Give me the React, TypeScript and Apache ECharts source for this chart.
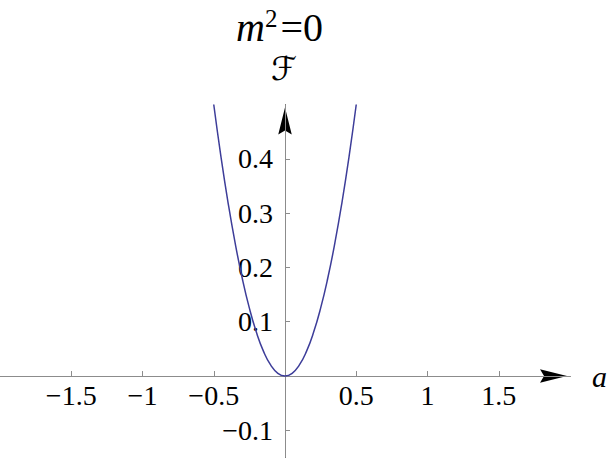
import React, { useEffect, useRef } from "react";
import * as echarts from "echarts";

// Curve points: a -> F
const aValues = [-0.5, -0.45, -0.4, -0.35, -0.3, -0.25, -0.2, -0.15, -0.1, -0.05, 0, 0.05, 0.1, 0.15, 0.2, 0.25, 0.3, 0.35, 0.4, 0.45, 0.5];
const fValues = [0.5, 0.405, 0.32, 0.245, 0.18, 0.125, 0.08, 0.045, 0.02, 0.005, 0, 0.005, 0.02, 0.045, 0.08, 0.125, 0.18, 0.245, 0.32, 0.405, 0.5];

const xTicks = [-1.5, -1, -0.5, 0.5, 1, 1.5];
const yTicks = [-0.1, 0.1, 0.2, 0.3, 0.4];
const xRange = [-2, 2];
const yRange = [-0.15, 0.5];

const titleText = "{m|m}{s|2}{e|=0}";
const yName = "ℱ";
const xName = "a";

const fmt = (v: number) => String(v).replace("-", "−");
const arrowPath = "path://M5,0 L10,20 L5,17 L0,20 Z";
const serif = "Liberation Serif, Times New Roman, serif";

export default function App() {
  const ref = useRef<HTMLDivElement>(null);
  useEffect(() => {
    if (!ref.current) return;
    const chart = echarts.init(ref.current, undefined, { renderer: "svg" });
    const axisGray = "#8c8c8c";
    const labelStyle = { fontSize: 28, fontFamily: serif, color: "#000" };
    const grid = { left: 0, top: 104.5, width: 570, height: 353 };
    // distances from the grid edges to the zero lines (so label-only axes sit on the zero lines)
    const xZeroFromLeft = (grid.width * (0 - xRange[0])) / (xRange[1] - xRange[0]);
    const yZeroFromBottom = (grid.height * (0 - yRange[0])) / (yRange[1] - yRange[0]);
    const hidden = { axisLine: { show: false, onZero: false }, axisTick: { show: false }, splitLine: { show: false } };
    chart.setOption({
      animation: false,
      backgroundColor: "#fff",
      title: [
        {
          text: titleText,
          left: 236,
          top: 6,
          padding: 0,
          textStyle: {
            fontWeight: "normal",
            rich: {
              m: { fontSize: 40, fontStyle: "italic", fontWeight: "normal", fontFamily: serif, color: "#000", lineHeight: 42 },
              s: { fontSize: 25, fontWeight: "normal", fontFamily: serif, color: "#000", verticalAlign: "top", lineHeight: 18, padding: [0, 3, 0, 0] },
              e: { fontSize: 40, fontWeight: "normal", fontFamily: serif, color: "#000", lineHeight: 42 },
            },
          },
        },
        {
          text: yName,
          left: 271,
          top: 52,
          padding: 0,
          textStyle: { fontSize: 33, fontWeight: "normal", fontStyle: "italic", fontFamily: "DejaVu Serif, DejaVu Sans, serif", color: "#000" },
        },
      ],
      grid: { ...grid, containLabel: false, outerBoundsMode: "none" },
      xAxis: [
        {
          type: "value",
          min: xRange[0],
          max: xRange[1],
          z: 2,
          position: "bottom",
          axisLine: { show: true, onZero: true, lineStyle: { color: axisGray, width: 1 } },
          axisTick: { show: true, inside: true, length: 5, customValues: xTicks, lineStyle: { color: axisGray } },
          axisLabel: { show: false },
          splitLine: { show: false },
          name: xName,
          nameLocation: "end",
          nameGap: 22,
          nameTextStyle: { fontSize: 30, fontStyle: "italic", fontFamily: serif, color: "#000", align: "left", verticalAlign: "middle" },
        },
        {
          type: "value",
          min: xRange[0],
          max: xRange[1],
          z: 1,
          position: "bottom",
          axisLine: {
            show: true,
            onZero: true,
            symbol: ["none", arrowPath],
            symbolSize: [15, 27],
            symbolOffset: [0, -16.5],
            lineStyle: { color: "#000", width: 1 },
          },
          axisTick: { show: false },
          axisLabel: { show: false },
          splitLine: { show: false },
        },
        {
          type: "value",
          min: xRange[0],
          max: xRange[1],
          position: "bottom",
          offset: -yZeroFromBottom,
          ...hidden,
          axisLabel: { show: true, customValues: xTicks, formatter: fmt, margin: 5, ...labelStyle },
        },
      ],
      yAxis: [
        {
          type: "value",
          min: yRange[0],
          max: yRange[1],
          z: 2,
          position: "left",
          axisLine: { show: true, onZero: true, lineStyle: { color: axisGray, width: 1 } },
          axisTick: { show: true, inside: true, length: 5, customValues: yTicks, lineStyle: { color: axisGray } },
          axisLabel: { show: false },
          splitLine: { show: false },
        },
        {
          type: "value",
          min: yRange[0],
          max: yRange[1],
          z: 1,
          position: "left",
          axisLine: {
            show: true,
            onZero: true,
            symbol: ["none", arrowPath],
            symbolSize: [15, 27],
            symbolOffset: [0, -16.5],
            lineStyle: { color: "#000", width: 1 },
          },
          axisTick: { show: false },
          axisLabel: { show: false },
          splitLine: { show: false },
        },
        {
          type: "value",
          min: yRange[0],
          max: yRange[1],
          position: "left",
          offset: -xZeroFromLeft,
          ...hidden,
          axisLabel: { show: true, customValues: yTicks, formatter: fmt, margin: 12, ...labelStyle },
        },
      ],
      series: [
        {
          type: "line",
          xAxisIndex: 0,
          yAxisIndex: 0,
          z: 3,
          data: aValues.map((a, i) => [a, fValues[i]]),
          smooth: true,
          showSymbol: false,
          symbol: "none",
          lineStyle: { color: "#3d3d99", width: 1.5 },
          itemStyle: { color: "#3d3d99" },
        },
      ],
    });
    return () => chart.dispose();
  }, []);
  return <div ref={ref} style={{ position: "fixed", left: 0, top: 0, width: 609, height: 458 }} />;
}
